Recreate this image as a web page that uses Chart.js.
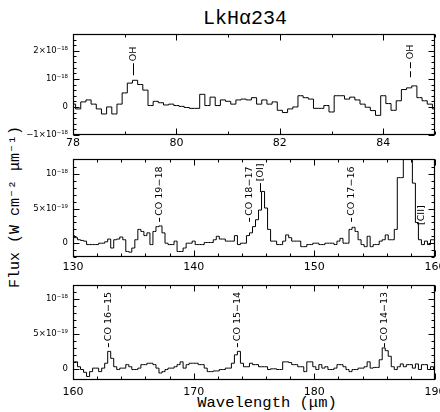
<!DOCTYPE html>
<html>
<head>
<meta charset="utf-8">
<script src="https://cdn.jsdelivr.net/npm/chart.js@4.4.1/dist/chart.umd.min.js"></script>
<style>
  html, body { margin: 0; padding: 0; background: #fff; }
  #page { position: relative; width: 440px; height: 412px; overflow: hidden; }
  #page canvas { position: absolute; left: 0; }
  .txt { position: absolute; color: #000; white-space: nowrap; font-family: "Liberation Mono", monospace; transform: translate(-50%, -50%); }
  #title { left: 245px; top: 18px; font-size: 20px; }
  #ytitle { left: 14px; top: 207px; font-size: 15px; transform: translate(-50%, -50%) rotate(-90deg); }
  #xtitle { left: 267px; top: 403px; font-size: 15.5px; }
</style>
</head>
<body>
<div id="page">
  <div class="txt" id="title">LkHα234</div>
  <div class="txt" id="ytitle">Flux (W cm⁻² μm⁻¹)</div>
  <div class="txt" id="xtitle">Wavelength (μm)</div>
  <canvas id="p1" width="440" height="131" style="top:24px"></canvas>
  <canvas id="p2" width="440" height="128" style="top:149px"></canvas>
  <canvas id="p3" width="440" height="125" style="top:275px"></canvas>
</div>
<script>
// Panel 1: 78-85 um, 0.1 um bins, flux in units of 1e-18 W cm-2 um-1
const start1 = 78, step1 = 0.1
const flux1 = [
  0.1, -0.07, 0.18, 0.25, 0.1, -0.07, -0.25, 0.0, -0.25, 0.1,
  0.5, 0.85, 0.95, 0.8, 0.6, 0.05, 0.2, 0.15, 0.07, 0.1,
  0.05, 0.02, -0.02, -0.05, -0.05, 0.45, 0.05, 0.35, 0.05, 0.25,
  0.2, 0.1, 0.25, 0.28, 0.25, 0.33, 0.1, 0.25, 0.1, 0.18,
  -0.12, -0.2, -0.07, 0.0, 0.4, 0.33, 0.28, -0.05, -0.05, 0.05,
  -0.18, 0.4, 0.4, 0.28, 0.35, 0.25, 0.1, -0.01, -0.13, -0.3,
  0.4, 0.12, -0.12, 0.22, 0.62, 0.68, 0.75, 0.33, 0.22, 0.1,
  -0.07,
]

// Panel 2: 130-160 um, 0.25 um bins, flux in units of 1e-19
const start2 = 130, step2 = 0.25
const flux2 = [
  1.1, 0.8, 0.5, 0.4, 0.3, -0.2, -0.2, -0.2, -0.2, 0.0,
  0.0, 0.2, 0.6, -0.7, 0.5, 0.6, 0.9, 0.5, -1.2, -1.3,
  -0.7, 0.5, 2.0, 1.7, 1.1, 1.5, -0.2, 1.7, 2.4, 2.5,
  1.5, 0.0, -0.2, -0.2, 0.3, -1.2, -1.2, -0.7, 0.0, 0.0,
  0.3, -0.2, -0.2, -0.2, 0.1, 0.1, 0.1, 0.5, 1.0, 0.6,
  0.6, 0.3, 0.3, 0.3, 1.1, -0.2, 0.0, 0.0, 1.1, 1.5,
  2.4, 3.4, 4.8, 7.5, 5.1, 2.0, 0.3, 0.3, -0.2, -0.2,
  0.3, 1.2, 0.8, 0.3, 0.3, 0.3, -0.5, -0.5, -0.2, -0.2,
  0.0, 0.0, -0.2, -0.2, 0.0, 0.0, 0.0, -0.2, 0.3, 0.7,
  0.0, 0.0, 2.0, 2.3, 1.7, 0.5, -0.2, -0.5, 1.0, -0.5,
  -0.2, -0.2, 0.3, 0.5, 1.2, 0.5, 0.5, 2.0, 9.5, 9.5,
  16, 16, 16, 8.7, 3.0, 0.5, -0.2, 0.3, -0.2, 0.5,
  0.5,
]

// Panel 3: 160-190 um, 0.25 um bins, flux in units of 1e-19
const start3 = 160, step3 = 0.25
const flux3 = [
  1.0, 1.0, 0.3, -0.1, -0.5, -1.1, -0.4, 0.1, 0.1, -0.4,
  0.1, 0.8, 2.5, 1.5, 0.3, -0.1, 0.1, 0.1, 0.6, 0.3,
  -0.1, -0.1, 0.1, 0.6, 0.6, 0.8, 0.8, 0.6, 0.1, -0.6,
  -0.4, -0.1, 0.1, 0.1, 0.3, 0.6, 1.0, 0.1, 0.6, 0.8,
  0.8, 0.8, 0.6, 0.6, 0.1, -0.4, -0.4, -0.3, -0.3, -0.1,
  -0.1, 0.1, 0.1, 0.8, 2.0, 2.5, 0.8, 0.3, 0.3, 0.8,
  0.6, 0.6, 0.3, 0.3, 0.3, -0.1, 0.0, 0.0, -0.1, -0.1,
  1.0, 1.0, 0.9, 0.6, 0.6, 0.3, 0.3, -0.4, 1.0, 1.0,
  0.3, -0.1, 0.6, 0.1, 0.3, -0.1, -0.1, 0.1, 0.6, 0.6,
  0.3, -0.1, -0.4, -0.1, -0.1, 0.1, 0.1, 0.3, 1.0, 0.1,
  0.2, 0.2, 1.3, 3.0, 2.6, 1.8, 0.3, -0.1, 0.3, 0.7,
  0.3, 0.6, 0.6, 0.1, 0.7, -0.1, 0.6, 0.6, -0.1, 0.3,
  -0.1,
]

// Line identifications
const ids1 = ["OH", "OH"]
const idWaves1 = [79.16, 84.52]
const ids2 = ["CO 19−18", "CO 18−17", "[OI]", "CO 17−16", "[CII]"]
const idWaves2 = [137.1, 144.6, 145.5, 153.07, 158.87]
const ids3 = ["CO 16−15", "CO 15−14", "CO 14−13"]
const idWaves3 = [162.94, 173.63, 185.77]

const near = (v, m) => Math.abs(v / m - Math.round(v / m)) < 1e-6

// box with inward ticks on all four sides
const framePlugin = {
  id: "frame",
  afterDatasetsDraw(chart, args, o) {
    const { ctx, chartArea: a, scales } = chart
    const L = Math.round(a.left) + 0.5, R = Math.round(a.right) - 0.5
    const T = Math.round(a.top) + 0.5, B = Math.round(a.bottom) - 0.5
    ctx.save()
    ctx.strokeStyle = "#000"
    ctx.lineWidth = 1.2
    ctx.strokeRect(L, T, R - L, B - T)
    ctx.lineWidth = 1
    ctx.beginPath()
    scales.x.ticks.forEach((t) => {
      if (!near(t.value, o.xMinor)) return
      const p = Math.round(scales.x.getPixelForValue(t.value)) + 0.5
      const len = near(t.value, o.xMajor) ? 6 : 3
      ctx.moveTo(p, B); ctx.lineTo(p, B - len)
      ctx.moveTo(p, T); ctx.lineTo(p, T + len)
    })
    scales.y.ticks.forEach((t) => {
      if (!near(t.value, o.yMinor)) return
      const p = Math.round(scales.y.getPixelForValue(t.value)) + 0.5
      const len = near(t.value, o.yMajor) ? 6 : 3
      ctx.moveTo(L, p); ctx.lineTo(L + len, p)
      ctx.moveTo(R, p); ctx.lineTo(R - len, p)
    })
    ctx.stroke()
    ctx.restore()
  },
}

// vertical line-id labels with a marker stroke beneath
const idPlugin = {
  id: "lineIds",
  afterDatasetsDraw(chart, args, o) {
    const { ctx, scales } = chart
    ctx.save()
    ctx.fillStyle = "#000"
    ctx.strokeStyle = "#000"
    ctx.lineWidth = 1
    ctx.font = "9.5px 'DejaVu Sans'"
    ctx.textBaseline = "middle"
    ctx.textAlign = "left"
    o.marks.forEach((m) => {
      const px = Math.round(scales.x.getPixelForValue(m.wave)) + 0.5
      const py = scales.y.getPixelForValue(m.base)
      if (m.dash) {
        ctx.setLineDash(m.dashed ? [6, 3] : [])
        ctx.beginPath()
        ctx.moveTo(px, py)
        ctx.lineTo(px, py - m.dash)
        ctx.stroke()
        ctx.setLineDash([])
      }
      ctx.save()
      ctx.translate(px, py - m.dash - 2)
      ctx.rotate(-Math.PI / 2)
      ctx.fillText(m.text, 0, 0)
      ctx.restore()
    })
    ctx.restore()
  },
}

function makePanel(id, start, step, flux, o) {
  const points = flux.map((f, i) => ({ x: +(start + i * step).toFixed(3), y: f }))
  return new Chart(document.getElementById(id), {
    type: "line",
    data: {
      datasets: [
        { data: points, borderColor: "#000", borderWidth: 1, pointRadius: 0, stepped: "middle", fill: false },
      ],
    },
    options: {
      responsive: false,
      animation: false,
      events: [],
      layout: { padding: { top: 10, right: 5, left: 0, bottom: 0 } },
      plugins: {
        legend: { display: false },
        tooltip: { enabled: false },
        frame: { xMinor: o.xMinor, xMajor: o.xMajor, yMinor: o.yMinor, yMajor: o.yMajor },
        lineIds: { marks: o.marks },
      },
      scales: {
        x: {
          type: "linear",
          min: o.xMin,
          max: o.xMax,
          grid: { display: false, drawTicks: false },
          border: { display: false },
          ticks: {
            stepSize: o.xMinor,
            autoSkip: false,
            maxRotation: 0,
            padding: o.xPad,
            color: "#000",
            font: { family: "DejaVu Sans", size: 11 },
            callback: (v) => (near(v, o.xMajor) ? String(Math.round(v)) : ""),
          },
          afterFit: (s) => { s.height = 20; s.paddingLeft = 0; s.paddingRight = 0 },
        },
        y: {
          min: o.yMin,
          max: o.yMax,
          grid: { display: false, drawTicks: false },
          border: { display: false },
          ticks: {
            stepSize: o.yMinor,
            autoSkip: false,
            padding: 5,
            color: "#000",
            font: { family: "DejaVu Sans", size: 8.5 },
            callback: (v) => (near(v, o.yMajor) ? o.yLabel(Math.round(v / o.yMajor) * o.yMajor) : ""),
          },
          afterFit: (s) => { s.width = 73; s.paddingTop = 0; s.paddingBottom = 0 },
        },
      },
    },
    plugins: [framePlugin, idPlugin],
  })
}

const label18 = { "-1": "−1×10⁻¹⁸", 0: "0", 1: "10⁻¹⁸", 2: "2×10⁻¹⁸" }
const label19 = { 0: "0", 5: "5×10⁻¹⁹", 10: "10⁻¹⁸" }

makePanel("p1", start1, step1, flux1, {
  xMin: 78, xMax: 85, xMinor: 1, xMajor: 2, xPad: 2,
  yMin: -1, yMax: 2.6, yMinor: 0.2, yMajor: 1,
  yLabel: (v) => label18[v] || "",
  marks: [
    { text: ids1[0], wave: idWaves1[0], base: 1.13, dash: 12 },
    { text: ids1[1], wave: idWaves1[1], base: 1.06, dash: 16, dashed: true },
  ],
})

makePanel("p2", start2, step2, flux2, {
  xMin: 130, xMax: 160, xMinor: 2, xMajor: 10, xPad: 4,
  yMin: -2, yMax: 12.2, yMinor: 1, yMajor: 5,
  yLabel: (v) => label19[v] || "",
  marks: [
    { text: ids2[0], wave: idWaves2[0], base: 3.1, dash: 4 },
    { text: ids2[1], wave: idWaves2[1], base: 3.1, dash: 4 },
    { text: ids2[2], wave: idWaves2[2], base: 7.4, dash: 9 },
    { text: ids2[3], wave: idWaves2[3], base: 3.1, dash: 4 },
    { text: ids2[4], wave: idWaves2[4], base: 2.35, dash: 0 },
  ],
})

makePanel("p3", start3, step3, flux3, {
  xMin: 160, xMax: 190, xMinor: 2, xMajor: 10, xPad: 6,
  yMin: -1.6, yMax: 12, yMinor: 1, yMajor: 5,
  yLabel: (v) => label19[v] || "",
  marks: ids3.map((t, i) => ({ text: t, wave: idWaves3[i], base: 3.1, dash: 4 })),
})
</script>
</body>
</html>
